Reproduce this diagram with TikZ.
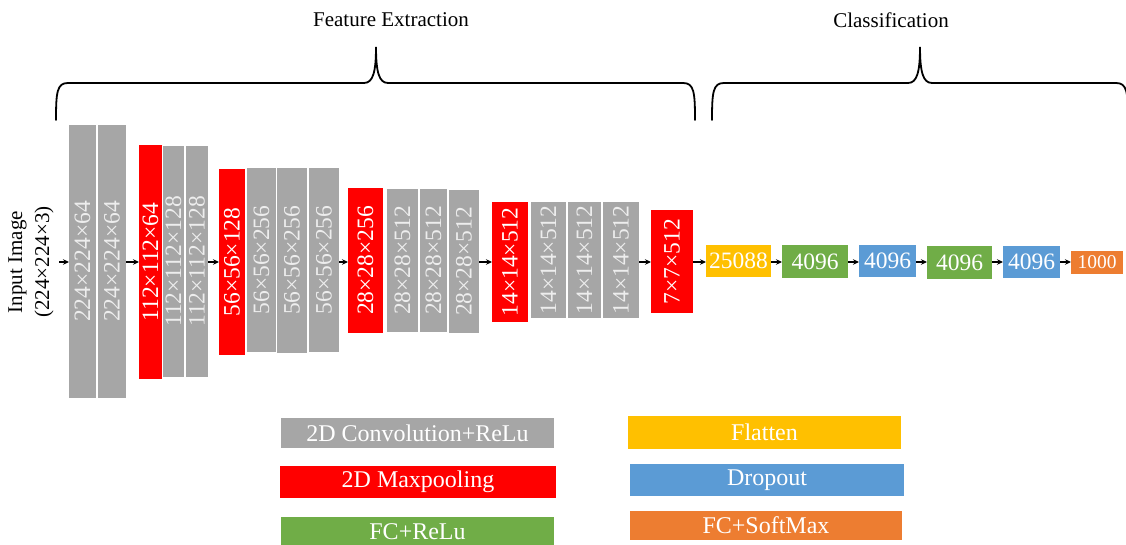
\documentclass[tikz,border=0pt]{standalone}
\usepackage{fontspec}
\setmainfont{Liberation Serif}
\usetikzlibrary{arrows.meta}

\definecolor{convgray}{HTML}{A6A6A6}
\definecolor{convtext}{HTML}{EDEDED}
\definecolor{poolred}{HTML}{FF0000}
\definecolor{fcgreen}{HTML}{70AD47}
\definecolor{dropblue}{HTML}{5B9BD5}
\definecolor{flatyellow}{HTML}{FFC000}
\definecolor{smorange}{HTML}{ED7D31}

\begin{document}
\begin{tikzpicture}[x=1pt,y=-1pt,
  layer/.style={inner sep=0pt, outer sep=0pt, font=\fontsize{23.5}{26}\selectfont},
  conv/.style={layer, fill=convgray, text=convtext},
  pool/.style={layer, fill=poolred, text=white},
  dense/.style={inner sep=0pt, outer sep=0pt, text=white, font=\fontsize{23.5}{26}\selectfont},
  legend/.style={inner sep=0pt, outer sep=0pt, text=white, font=\fontsize{24}{28}\selectfont},
  arr/.style={-{Stealth[length=6pt,width=5.5pt]}, line width=1.3pt, black},
  brace/.style={line width=1.8pt, black, line cap=round},
  heading/.style={font=\fontsize{21}{24}\selectfont, text=black}]

\useasboundingbox (0,0) rectangle (1126,545);
\clip (0,0) rectangle (1126,545);

% input label
\node[rotate=90, align=center, font=\fontsize{21}{27}\selectfont] (inp) at (31,262)
  {Input Image\\(224×224×3)};
\coordinate (inpout) at (59,262);

% block 1
\node[conv, minimum width=27, minimum height=273] (c1a) at (82.5,261.5) {\rotatebox{90}{224×224×64}};
\node[conv, minimum width=28, minimum height=273] (c1b) at (112,261.5) {\rotatebox{90}{224×224×64}};
% block 2
\node[pool, minimum width=23, minimum height=234] (p1) at (150.5,262) {\rotatebox{90}{112×112×64}};
\node[conv, minimum width=21, minimum height=231] (c2a) at (173.5,261.5) {\rotatebox{90}{112×112×128}};
\node[conv, minimum width=22, minimum height=231] (c2b) at (197,261.5) {\rotatebox{90}{112×112×128}};
% block 3
\node[pool, minimum width=26, minimum height=186] (p2) at (232,262) {\rotatebox{90}{56×56×128}};
\node[conv, minimum width=29, minimum height=184] (c3a) at (261.5,260) {\rotatebox{90}{56×56×256}};
\node[conv, minimum width=30, minimum height=185] (c3b) at (292,260.5) {\rotatebox{90}{56×56×256}};
\node[conv, minimum width=30, minimum height=184] (c3c) at (324,260) {\rotatebox{90}{56×56×256}};
% block 4
\node[pool, minimum width=35, minimum height=145] (p3) at (365.5,260.5) {\rotatebox{90}{28×28×256}};
\node[conv, minimum width=31, minimum height=143] (c4a) at (402.5,260.5) {\rotatebox{90}{28×28×512}};
\node[conv, minimum width=27, minimum height=143] (c4b) at (433.5,260.5) {\rotatebox{90}{28×28×512}};
\node[conv, minimum width=30, minimum height=143] (c4c) at (464,261.5) {\rotatebox{90}{28×28×512}};
% block 5
\node[pool, minimum width=36, minimum height=120] (p4) at (510,262) {\rotatebox{90}{14×14×512}};
\node[conv, minimum width=35, minimum height=116] (c5a) at (548.5,260) {\rotatebox{90}{14×14×512}};
\node[conv, minimum width=33, minimum height=116] (c5b) at (584.5,260) {\rotatebox{90}{14×14×512}};
\node[conv, minimum width=36, minimum height=116] (c5c) at (621,260) {\rotatebox{90}{14×14×512}};
\node[pool, minimum width=42, minimum height=103] (p5) at (672,261.5) {\rotatebox{90}{7×7×512}};

% classifier
\node[dense, fill=flatyellow, minimum width=65, minimum height=32] (fl) at (738.5,261) {25088};
\node[dense, fill=fcgreen, minimum width=66, minimum height=33] (fc1) at (815,261.5) {4096};
\node[dense, fill=dropblue, minimum width=57, minimum height=32] (dr1) at (887.5,261) {4096};
\node[dense, fill=fcgreen, minimum width=65, minimum height=33] (fc2) at (959.5,262.5) {4096};
\node[dense, fill=dropblue, minimum width=57, minimum height=32] (dr2) at (1031.5,262) {4096};
\node[dense, fill=smorange, minimum width=52, minimum height=23, font=\fontsize{19.5}{22}\selectfont] (sm) at (1097,262.5) {1000};

% data flow
\draw[arr] (inpout) -- (inpout -| c1a.west);
\draw[arr] (c1b.east |- 0,262) -- (p1.west |- 0,262);
\draw[arr] (c2b.east |- 0,262) -- (p2.west |- 0,262);
\draw[arr] (c3c.east |- 0,262) -- (p3.west |- 0,262);
\draw[arr] (c4c.east |- 0,262) -- (p4.west |- 0,262);
\draw[arr] (c5c.east |- 0,262) -- (p5.west |- 0,262);
\draw[arr] (p5.east |- 0,262) -- (fl.west |- 0,262);
\draw[arr] (fl.east |- 0,262) -- (fc1.west |- 0,262);
\draw[arr] (fc1.east |- 0,262) -- (dr1.west |- 0,262);
\draw[arr] (dr1.east |- 0,262) -- (fc2.west |- 0,262);
\draw[arr] (fc2.east |- 0,262) -- (dr2.west |- 0,262);
\draw[arr] (dr2.east |- 0,262) -- (sm.west |- 0,262);

% braces and headings
\draw[brace] (56,120) .. controls (56,92) and (57,83) .. (68,83) -- (364,83)
  .. controls (373,83) and (376,72) .. (376,47)
  .. controls (376,72) and (379,83) .. (388,83) -- (683,83)
  .. controls (694,83) and (695,92) .. (695,120);
\draw[brace] (712,120) .. controls (712,92) and (713,83) .. (724,83) -- (908,83)
  .. controls (917,83) and (920,72) .. (920,47)
  .. controls (920,72) and (923,83) .. (932,83) -- (1116,83)
  .. controls (1127,83) and (1128,92) .. (1128,120);
\node[heading] (feat) at (391,20) {Feature Extraction};
\node[heading] (cls) at (891,20) {Classification};

% legend
\node[legend, fill=convgray, minimum width=273, minimum height=30] (lg1) at (417.5,433) {2D Convolution+ReLu};
\node[legend, fill=poolred, minimum width=276, minimum height=32] (lg2) at (418,482) {2D Maxpooling};
\node[legend, fill=fcgreen, minimum width=273, minimum height=30] (lg3) at (417.5,532) {FC+ReLu};
\node[legend, fill=flatyellow, minimum width=273, minimum height=33] (lg4) at (764.5,432.5) {Flatten};
\node[legend, fill=dropblue, minimum width=274, minimum height=32] (lg5) at (767,480) {Dropout};
\node[legend, fill=smorange, minimum width=272, minimum height=29] (lg6) at (766,525.5) {FC+SoftMax};
\end{tikzpicture}
\end{document}
